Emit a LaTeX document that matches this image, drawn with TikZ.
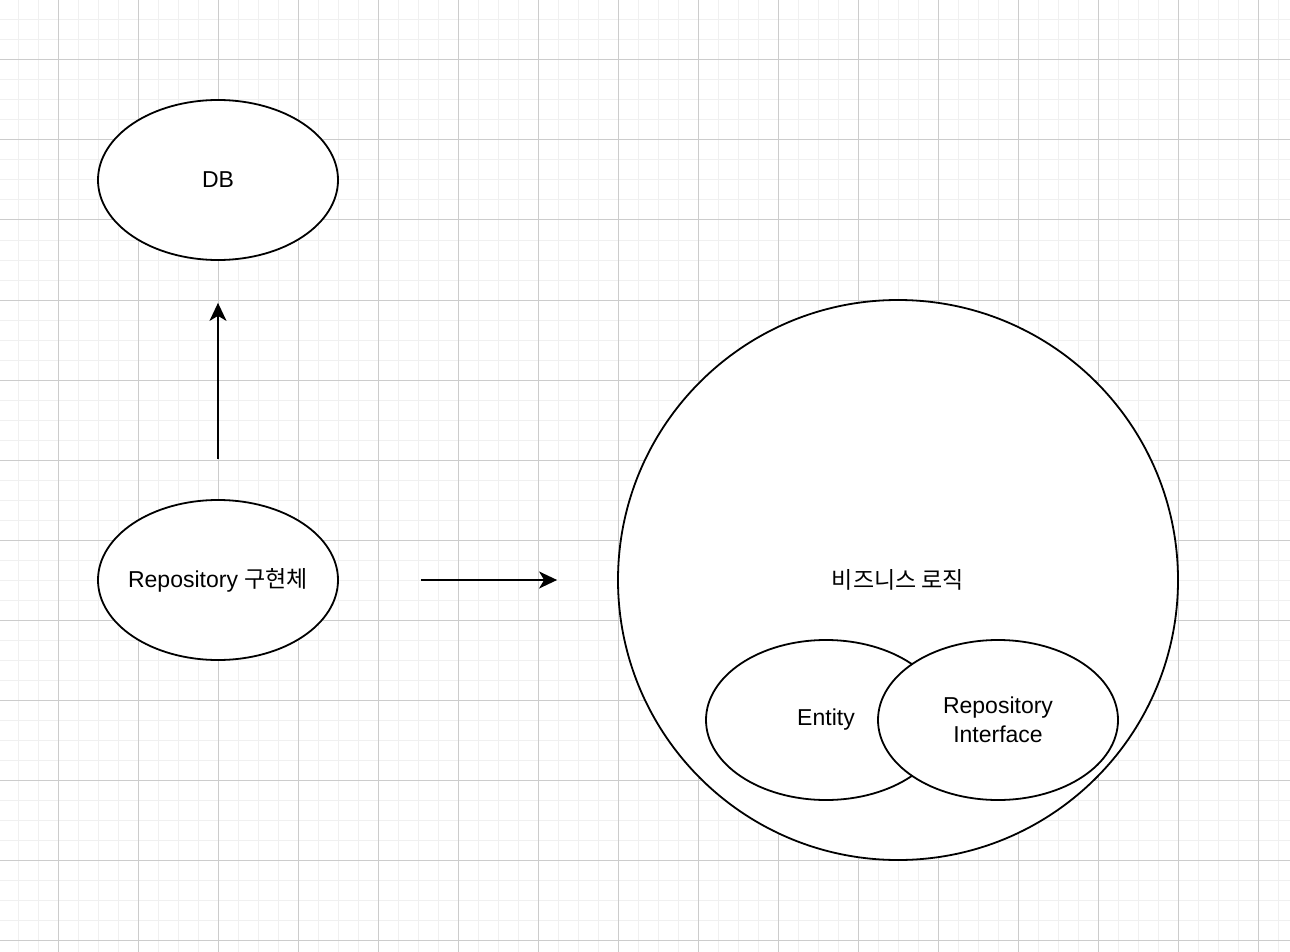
\documentclass[tikz,border=0pt]{standalone}
\usepackage{fontspec}
\setmainfont{Liberation Sans}
\newfontfamily\krfont{Noto Sans CJK KR}
\usetikzlibrary{shapes.geometric,arrows.meta}
\definecolor{gridmajor}{HTML}{CCCCCC}
\definecolor{gridminor}{HTML}{F0F0F0}

\begin{document}
\begin{tikzpicture}[x=1pt, y=-1pt,
      blob/.style={ellipse, draw, fill=white, line width=1.8pt, inner xsep=-15pt, inner ysep=0pt,
        minimum width=240pt, minimum height=160pt, align=center,
        font=\fontsize{23}{29}\selectfont},
      bigcircle/.style={circle, draw, fill=white, line width=1.8pt, minimum size=560pt,
        font=\fontsize{23}{29}\selectfont},
      link/.style={-{Stealth[length=18pt, width=17pt, inset=5pt]}, line width=1.8pt},
      node distance=400pt]
      % background and grid
      \fill[white] (0,0) rectangle (1290,952);
      \useasboundingbox (0,0) rectangle (1290,952);
      \foreach \gx in {18,38,...,1290} \draw[gridminor, line width=1pt] (\gx,0) -- (\gx,952);
      \foreach \gy in {0,20,...,952} \draw[gridminor, line width=1pt] (0,\gy) -- (1290,\gy);
      \foreach \gx in {58,138,...,1290} \draw[gridmajor, line width=1pt] (\gx,0) -- (\gx,952);
      \foreach \gy in {60,140,...,952} \draw[gridmajor, line width=1pt] (0,\gy) -- (1290,\gy);

      \node[blob] (db) at (218,180) {DB};
      \node[blob, below of=db] (repoimpl) {Repository {\krfont 구현체}};

      \node[bigcircle] (biz) at (898,580) {\krfont 비즈니스 로직};
      \node[blob] (entity) at (826,720) {Entity};
      \node[blob, right of=entity, node distance=172pt] (repoif) {Repository\\Interface};

      \draw[link, shorten <=40pt, shorten >=42pt] (repoimpl) -- (db);
      \draw[link, shorten <=82pt, shorten >=60pt] (repoimpl) -- (biz);

    \end{tikzpicture}
\end{document}
